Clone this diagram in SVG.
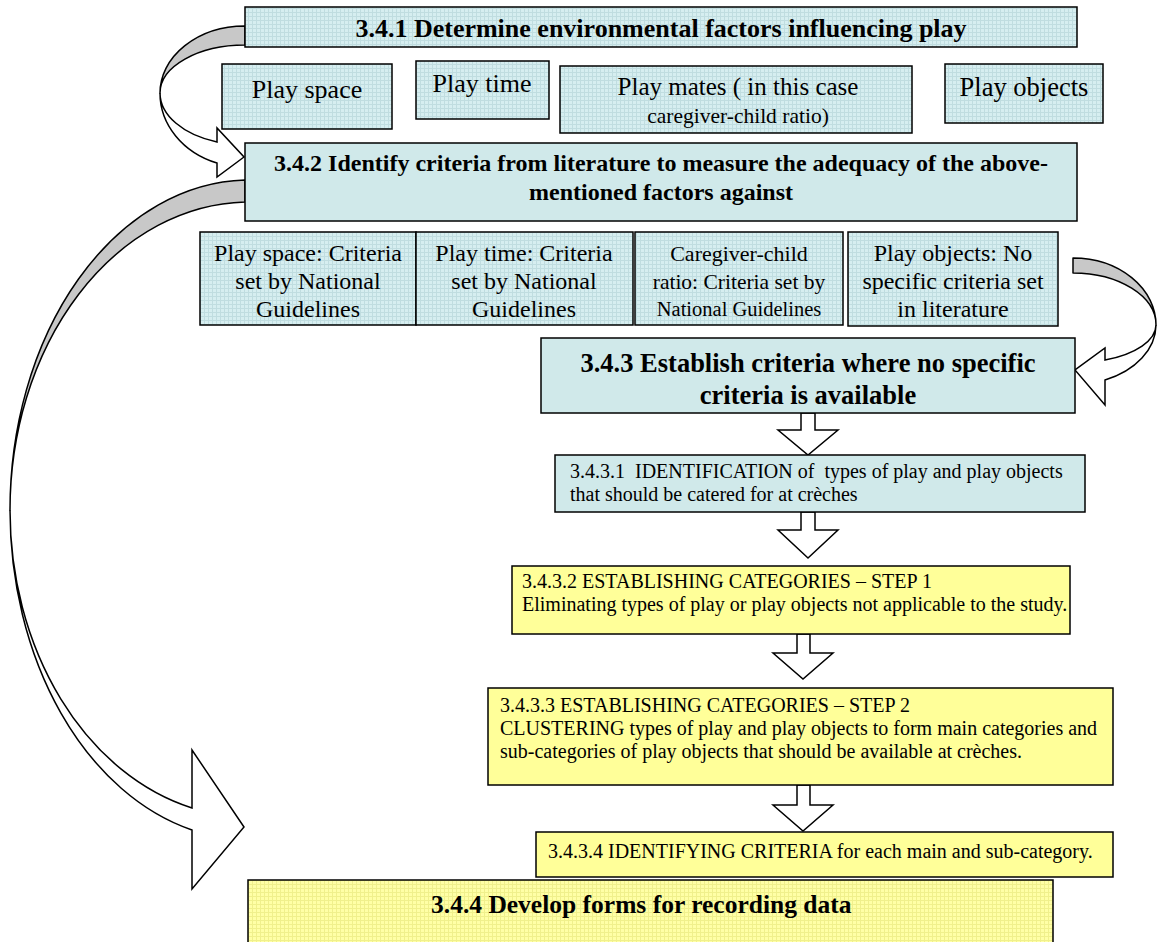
<svg xmlns="http://www.w3.org/2000/svg" width="1157" height="942" viewBox="0 0 1157 942">
<defs>
<pattern id="tb" width="4" height="4" patternUnits="userSpaceOnUse"><rect width="4" height="4" fill="#d6eef0"/><rect width="4" height="1" fill="#c0dde0"/><rect width="1" height="4" fill="#c0dde0"/></pattern>
<pattern id="ty" width="4" height="4" patternUnits="userSpaceOnUse"><rect width="4" height="4" fill="#ffffa6"/><rect width="4" height="1" fill="#f0f08c"/><rect width="1" height="4" fill="#f0f08c"/></pattern>
</defs>
<style>
.tx{fill:url(#tb);stroke:#000;stroke-width:1.5}
.sb{fill:#d0e9ea;stroke:#000;stroke-width:1.5}
.sy{fill:#ffff99;stroke:#000;stroke-width:1.5}
.ty{fill:url(#ty);stroke:#000;stroke-width:1.5}
text{font-family:"Liberation Serif","Times New Roman",serif;fill:#000}
.b{font-weight:bold}
.m{text-anchor:middle}
.gray{fill:#c8c8c8;stroke:#000;stroke-width:1.5;stroke-linejoin:round}
.wht{fill:#fff;stroke:#000;stroke-width:1.5;stroke-linejoin:miter}
</style>
<rect width="1157" height="942" fill="#fff"/>
<g id="connectors">
<path class="gray" d="M245,26 A85,67 0 0 0 160,93 A85,48 0 0 1 245,45 Z"/>
<path class="wht" d="M160,93 A85,74 0 0 0 217,163 L217,177 L244,157 L217,128 L217,142 A85,52 0 0 1 160,93 Z"/>
<path class="gray" d="M245,180 A240,330 0 0 0 10,510 A240,308 0 0 1 245,202 Z"/>
<path class="wht" d="M10,510 A240,330 0 0 0 192,830 L192,889 L244,827 L192,750 L192,808 A240,307 0 0 1 10,510 Z"/>
<path class="gray" d="M1073,258 A83,67 0 0 1 1156,325 A83,52 0 0 0 1073,273 Z"/>
<path class="wht" d="M1156,325 A83,60 0 0 1 1105,380 L1105,405 L1075,370 L1105,348 L1105,360 A83,38 0 0 0 1156,325 Z"/>
<path class="wht" d="M801,413 L815,413 L815,430 L838,430 L808,455 L778,430 L801,430 Z"/>
<path class="wht" d="M801,512 L815,512 L815,530 L838,530 L808,558 L778,530 L801,530 Z"/>
<path class="wht" d="M797,634 L810,634 L810,653 L833,653 L803,679 L773,653 L797,653 Z"/>
<path class="wht" d="M797,785 L810,785 L810,805 L833,805 L803,831 L773,805 L797,805 Z"/>
</g>
<g id="n341"><rect class="tx" x="245" y="7" width="832" height="40"/><text class="b m" x="661" y="37" font-size="26">3.4.1 Determine environmental factors influencing play</text></g>
<g id="nspace"><rect class="tx" x="222" y="64" width="170" height="65"/><text class="m" x="307" y="98" font-size="26">Play space</text></g>
<g id="ntime"><rect class="tx" x="416" y="61" width="133" height="58"/><text class="m" x="482" y="92" font-size="26">Play time</text></g>
<g id="nmates"><rect class="tx" x="560" y="66" width="352" height="67"/><text class="m" x="738" y="95" font-size="25">Play mates ( in this case</text><text class="m" x="738" y="123" font-size="21.5">caregiver-child ratio)</text></g>
<g id="nobjects"><rect class="tx" x="945" y="64" width="158" height="59"/><text class="m" x="1024" y="96" font-size="26.5">Play objects</text></g>
<g id="n342"><rect class="sb" x="245" y="143" width="832" height="78"/><text class="b m" x="661" y="171" font-size="24">3.4.2 Identify criteria from literature to measure the adequacy of the above-</text><text class="b m" x="661" y="200" font-size="24">mentioned factors against</text></g>
<g id="cspace"><rect class="tx" x="200" y="232" width="216" height="93"/><text class="m" x="308" y="261" font-size="24">Play space: Criteria</text><text class="m" x="308" y="289" font-size="24">set by National</text><text class="m" x="308" y="317" font-size="24">Guidelines</text></g>
<g id="ctime"><rect class="tx" x="416" y="232" width="217" height="93"/><text class="m" x="524" y="261" font-size="24">Play time: Criteria</text><text class="m" x="524" y="289" font-size="24">set by National</text><text class="m" x="524" y="317" font-size="24">Guidelines</text></g>
<g id="cratio"><rect class="tx" x="635" y="232" width="208" height="93"/><text class="m" x="739" y="261" font-size="22">Caregiver-child</text><text class="m" x="739" y="289" font-size="21.5">ratio: Criteria set by</text><text class="m" x="739" y="316" font-size="20.5">National Guidelines</text></g>
<g id="cobjects"><rect class="tx" x="848" y="232" width="210" height="94"/><text class="m" x="953" y="261" font-size="24">Play objects: No</text><text class="m" x="953" y="289" font-size="24">specific criteria set</text><text class="m" x="953" y="317" font-size="24">in literature</text></g>
<g id="n343"><rect class="sb" x="541" y="338" width="534" height="75"/><text class="b m" x="808" y="372" font-size="26.5">3.4.3 Establish criteria where no specific</text><text class="b m" x="808" y="404" font-size="26.5">criteria is available</text></g>
<g id="n3431"><rect class="sb" x="555" y="455" width="530" height="57"/><text x="570" y="478" font-size="20" xml:space="preserve">3.4.3.1  IDENTIFICATION of  types of play and play objects</text><text x="570" y="501" font-size="20">that should be catered for at crèches</text></g>
<g id="n3432"><rect class="sy" x="512" y="566" width="558" height="68"/><text x="522" y="588" font-size="20">3.4.3.2 ESTABLISHING CATEGORIES – STEP 1</text><text x="522" y="611" font-size="20">Eliminating types of play or play objects not applicable to the study.</text></g>
<g id="n3433"><rect class="sy" x="488" y="688" width="625" height="97"/><text x="500" y="712" font-size="20">3.4.3.3 ESTABLISHING CATEGORIES – STEP 2</text><text x="500" y="735" font-size="20">CLUSTERING types of play and play objects to form main categories and</text><text x="500" y="758" font-size="20">sub-categories of play objects that should be available at crèches.</text></g>
<g id="n3434"><rect class="sy" x="536" y="832" width="577" height="45"/><text x="548" y="858" font-size="20">3.4.3.4 IDENTIFYING CRITERIA for each main and sub-category.</text></g>
<g id="n344"><rect class="ty" x="248" y="880" width="805" height="75"/><text class="b" x="431" y="913" font-size="25.5">3.4.4 Develop forms for recording data</text></g>
</svg>
